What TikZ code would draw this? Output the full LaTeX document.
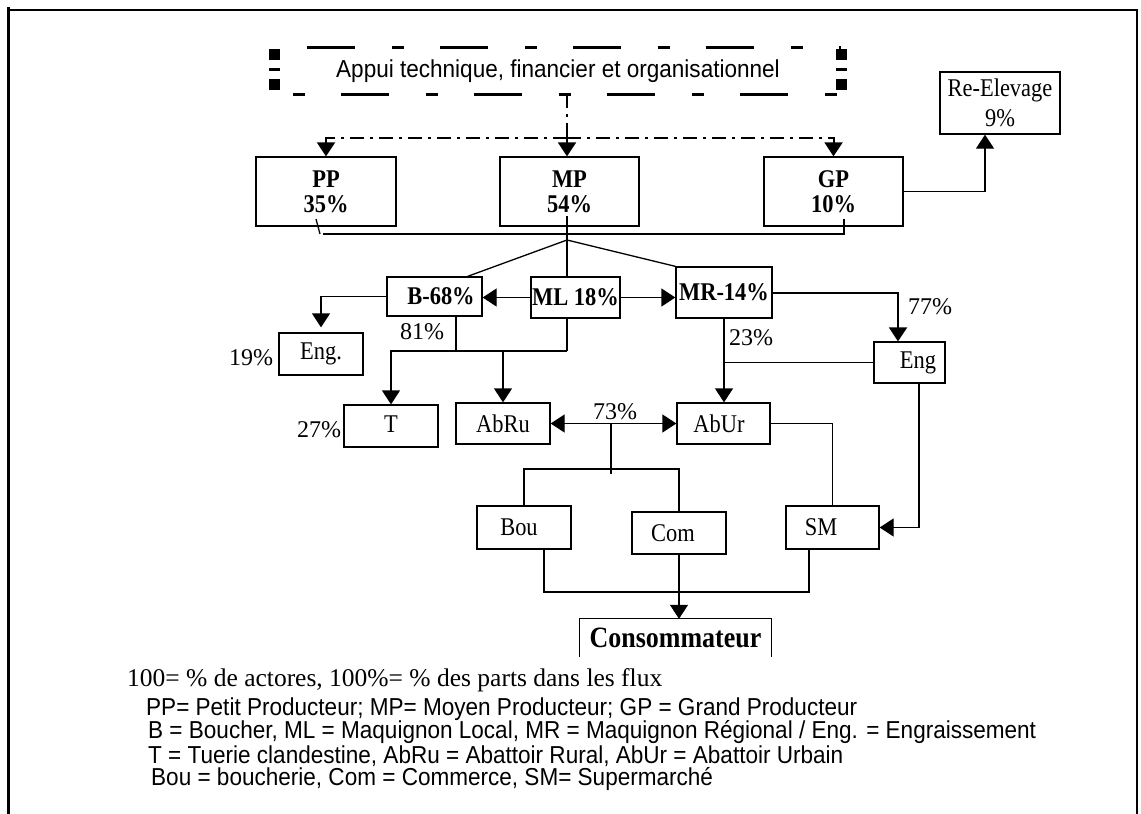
\documentclass[tikz,border=0pt]{standalone}
\usepackage{fontspec}
\setmainfont{Liberation Serif}
\setsansfont{Liberation Sans}
\newfontfamily\boxfont{Liberation Serif}[FakeStretch=0.88]
\newfontfamily\notefont{Liberation Sans}[FakeStretch=0.92]
\usetikzlibrary{arrows.meta}

\begin{document}
\begin{tikzpicture}[x=1pt,y=1pt,yscale=-1,
  >={Triangle[length=14pt,width=18pt]},
  box/.style={draw, line width=1.3pt, inner sep=0pt, align=center, font=\boxfont\fontsize{25.5}{25}\selectfont},
  boldbox/.style={box, font=\boxfont\fontsize{25.5}{25}\selectfont\bfseries},
  pct/.style={inner sep=0pt, font=\fontsize{24}{25}\selectfont},
  legend/.style={anchor=west, inner sep=0pt, font=\notefont\fontsize{24.5}{25}\selectfont},
  link/.style={line width=1.3pt},
  flow/.style={link, ->},
  support/.style={line width=2pt, dash pattern=on 14pt off 6pt on 3pt off 6pt},
  rim/.style={line width=3pt, dash pattern=on 48pt off 37pt on 12pt off 36pt},
  rimside/.style={line width=11pt, dash pattern=on 11pt off 8pt on 3pt off 8pt, dash phase=29pt}]
\useasboundingbox (0,0) rectangle (1141,814);

%frame
\draw [line width=3pt] (8,7) -- (8,814);
\draw [line width=2pt] (8,10) -- (1137,10) -- (1137,814);

%support box
\node [minimum width=566pt, minimum height=46pt, inner sep=0pt, font=\notefont\fontsize{24.5}{25}\selectfont] (appui) at (558,71) {Appui technique, financier et organisationnel};
\draw [rim, dash phase=101pt] (appui.north west) -- (appui.north east);
\draw [rim, dash phase=67pt] (appui.south west) -- (appui.south east);
\draw [rimside] (appui.north west) -- (appui.south west);
\draw [rimside] (appui.north east) -- (appui.south east);

%producers
\node [boldbox, minimum width=140pt, minimum height=69pt] (pp) at (326,191.5) {PP\\35\%};
\node [boldbox, minimum width=139pt, minimum height=69pt] (mp) at (569.5,191.5) {MP\\54\%};
\node [boldbox, minimum width=139pt, minimum height=69pt] (gp) at (833.5,191.5) {GP\\10\%};
\node [box, minimum width=120pt, minimum height=62pt, font=\boxfont\fontsize{25.5}{30}\selectfont] (reel) at (1000,103) {Re-Elevage\\9\%};

%intermediaries
\node [boldbox, minimum width=95pt, minimum height=39pt] (b68) at (434.5,296.5) {\hspace*{13pt}B-68\%};
\node [boldbox, minimum width=89pt, minimum height=41pt] (ml) at (575.5,297.5) {ML 18\%};
\node [boldbox, minimum width=96pt, minimum height=51pt] (mr) at (724,292.5) {MR-14\%};
\node [box, minimum width=84pt, minimum height=42pt] (engl) at (321,354) {Eng.};
\node [box, minimum width=71pt, minimum height=41pt] (engr) at (909.5,362.5) {\hspace*{17pt}Eng};

%slaughter
\node [box, minimum width=94pt, minimum height=42pt] (t) at (391,426) {\raisebox{3pt}{T}};
\node [box, minimum width=94pt, minimum height=41pt] (abru) at (503,423.5) {AbRu};
\node [box, minimum width=93pt, minimum height=41pt] (abur) at (723.5,423.5) {AbUr\hspace*{9pt}};

%retail
\node [box, minimum width=94pt, minimum height=43pt] (bou) at (524,527.5) {Bou\hspace*{10pt}};
\node [box, minimum width=94pt, minimum height=42pt] (com) at (679,533) {Com\hspace*{12pt}};
\node [box, minimum width=93pt, minimum height=43pt] (sm) at (832.5,527.5) {SM\hspace*{23pt}};
\node [inner sep=0pt, minimum width=191pt, minimum height=38pt, font=\boxfont\fontsize{29.5}{30}\selectfont\bfseries] (conso) at (675.5,638) {\raisebox{-5pt}{Consommateur}};
\draw [link] (conso.south west) -- (conso.north west) -- (conso.north east) -- (conso.south east);

%support links
\coordinate (ddhub) at (567,138);
\draw [support] (appui.south -| ddhub) -- (ddhub);
\draw [support, ->] (ddhub) -| (pp.north);
\draw [support, ->] (ddhub) -- (ddhub |- mp.north);
\draw [support, ->] (ddhub) -| (gp.north);

\coordinate (reelx) at (985,0);
\draw [flow] (gp.east) -| (reel.south -| reelx);

%collection
\coordinate (fan) at (567,240);
\coordinate (pptick) at (316,219);
\coordinate (gptick) at (844,219);
\coordinate (mptick) at (567,216);
\coordinate (collL) at (323,234);
\coordinate (collR) at (844,234);
\draw [link] (pptick) -- ++(4,15);
\draw [link] (collL) -- (collR) -- (gptick);
\draw [link] (mptick) -- (fan);
\draw [link] (fan) -- ([xshift=-15pt]b68.north east);
\draw [link] (fan) -- (fan |- ml.north);
\draw [link] (fan) -- (mr.north west);

%flows
\draw [flow] (ml.west) -- (ml.west -| b68.east);
\draw [flow] (ml.east) -- (ml.east -| mr.west);
\draw [flow, shorten >=5pt] (b68.west) -| (engl.north);
\draw [flow, line width=2pt] (mr.east) -| ([xshift=-11.5pt]engr.north);
\coordinate (bml) at (456,351);
\draw [link] (b68.south -| bml) -- (bml);
\draw [link] (ml.south -| fan) -- (fan |- bml);
\draw [flow] (fan |- bml) -| (t.north);
\draw [flow] (abru.north |- bml) -- (abru.north);
\draw [flow] (mr.south) -- (mr.south |- abur.north);
\draw [link] (engr.west) -- (engr.west -| mr.south);
\draw [flow, <->] (abru.east) -- (abru.east -| abur.west);
\coordinate (dsplit) at (611,469);
\draw [link] (dsplit |- abru.east) -- ++(0,50);
\draw [link] (bou.north) |- (com.north |- dsplit) -- (com.north);
\draw [link] (abur.east) -| (sm.north);
\draw [flow] ([xshift=9.5pt]engr.south) |- (sm.east);
\coordinate (cjoin) at (677,592);
\draw [link] ([xshift=20pt]bou.south) |- (cjoin) -| ([xshift=-23.5pt]sm.south);
\draw [flow] (com.south) -- (com.south |- conso.north);

%shares
\node [pct] (p81) at (422,332) {81\%};
\node [pct] (p23) at (751,338) {23\%};
\node [pct] (p77) at (930,307) {77\%};
\node [pct] (p19) at (251,358) {19\%};
\node [pct] (p27) at (319,430) {27\%};
\node [pct] (p73) at (615,412) {73\%};

%legend
\node [anchor=west, inner sep=0pt, font=\fontsize{25.5}{28}\selectfont] (unit) at (127,680) {100= \% de actores, 100\%= \% des parts dans les flux};
\node [legend] (lgpp) at (146,709) {PP= Petit Producteur; MP= Moyen Producteur; GP = Grand Producteur};
\node [legend] (lgb) at (148,732) {B = Boucher, ML = Maquignon Local, MR = Maquignon Régional / Eng. = Engraissement};
\node [legend] (lgt) at (148,756) {T = Tuerie clandestine, AbRu = Abattoir Rural, AbUr = Abattoir Urbain};
\node [legend] (lgbou) at (151,779) {Bou = boucherie, Com = Commerce, SM= Supermarché};

\end{tikzpicture}
\end{document}
